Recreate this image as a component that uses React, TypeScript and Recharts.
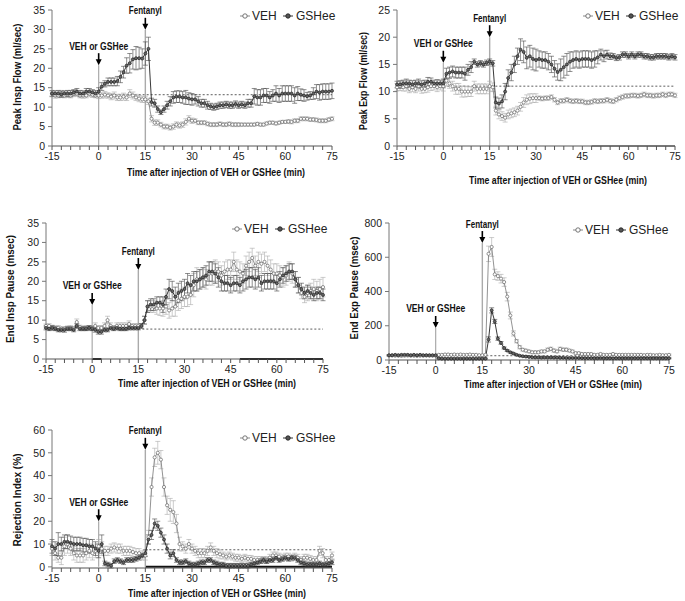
import React from 'react';
import { LineChart, Line, XAxis, YAxis, ErrorBar, ReferenceLine, ReferenceDot, Label } from 'recharts';

const FONT = 'Liberation Sans, Arial, sans-serif';

const TIME = [
  -15, -14, -13, -12, -11, -10, -9, -8, -7, -6, -5, -4, -3, -2, -1,
  0, 1, 2, 3, 4, 5, 6, 7, 8, 9, 10, 11, 12, 13, 14, 15,
  16, 17, 18, 19, 20, 21, 22, 23, 24, 25, 26, 27, 28, 29, 30,
  31, 32, 33, 34, 35, 36, 37, 38, 39, 40, 41, 42, 43, 44, 45,
  46, 47, 48, 49, 50, 51, 52, 53, 54, 55, 56, 57, 58, 59, 60,
  61, 62, 63, 64, 65, 66, 67, 68, 69, 70, 71, 72, 73, 74, 75,
];
const X_TICKS = [-15, -12, -9, -6, -3, 0, 3, 6, 9, 12, 15, 18, 21, 24, 27, 30, 33, 36, 39, 42, 45, 48, 51, 54, 57, 60, 63, 66, 69, 72, 75];

// Peak Insp Flow
const p1Veh = [
  13.5, 13, 13, 13.5, 13, 13.2, 13, 13.5, 13.5, 13, 13, 13, 13.5, 13.2, 13,
  13, 13, 13.2, 13, 12.7, 13, 12.5, 12.5, 12.7, 12.5, 13.5, 13, 12.5, 12.2, 12, 12,
  11.5, 7, 6, 6, 5.5, 5, 5, 4.7, 5, 5.5, 5.3, 5.5, 6.2, 7, 6.5,
  6.5, 6, 6, 6, 5.7, 5.5, 5.5, 5.5, 5.7, 5.5, 5.5, 5.7, 5.5, 5.5, 5.5,
  5.5, 5.5, 5.5, 5.5, 5.5, 5.7, 5.5, 5.5, 5.8, 6, 6, 5.8, 6, 6.2, 6.2,
  6.3, 6.2, 6.5, 6.5, 7, 7, 7, 6.8, 6.8, 6.7, 6.5, 6.5, 6.5, 6.8, 7,
];
const p1VehErr = [
  0.6, 0.7, 0.6, 0.8, 0.6, 0.7, 0.6, 0.8, 0.7, 0.6, 0.7, 0.6, 0.8, 0.7, 0.6,
  0.8, 0.7, 0.8, 0.7, 0.8, 0.9, 0.8, 0.8, 0.9, 0.8, 1, 0.9, 0.8, 0.8, 0.8, 0.8,
  0.8, 0.8, 0.7, 0.7, 0.6, 0.6, 0.6, 0.6, 0.7, 0.7, 0.7, 0.7, 0.8, 0.8, 0.7,
  0.5, 0.5, 0.5, 0.5, 0.5, 0.5, 0.5, 0.5, 0.5, 0.5, 0.5, 0.5, 0.5, 0.5, 0.5,
  0.4, 0.4, 0.4, 0.4, 0.4, 0.4, 0.4, 0.4, 0.4, 0.4, 0.4, 0.4, 0.4, 0.4, 0.4,
  0.5, 0.5, 0.5, 0.5, 0.5, 0.5, 0.5, 0.5, 0.5, 0.5, 0.5, 0.5, 0.5, 0.5, 0.5,
];
const p1Gsh = [
  13.5, 13.5, 13.5, 13.3, 13.5, 13.5, 13.5, 13.8, 14, 13.5, 13.5, 14, 14, 13.8, 13.5,
  14, 15.3, 16, 16.5, 16.5, 16.5, 16.7, 17.8, 19, 20.7, 21.3, 22.3, 22.6, 22.6, 22.5, 23.8,
  25, 11.3, 11, 9.5, 8.7, 9.5, 10.5, 11.5, 12.5, 12.7, 12.7, 12.5, 12.5, 12.2, 12,
  12, 11.5, 11, 11, 10.5, 10.2, 10, 10.2, 10.5, 10.5, 10.7, 10.5, 10.5, 10.8, 10.5,
  10.7, 10.5, 11, 11, 12.8, 12.5, 12.5, 13, 13, 12.5, 13, 13.5, 13, 13.5, 13.5,
  13.5, 13.5, 13, 13.5, 13.2, 13, 12.8, 13, 13.5, 14, 13.8, 14, 14, 14, 14.2,
];
const p1GshErr = [
  0.8, 0.7, 0.8, 0.8, 0.7, 0.8, 0.8, 0.7, 0.8, 0.8, 0.7, 0.8, 0.8, 0.7, 0.8,
  1, 1, 0.8, 1, 1, 1, 1.2, 1.5, 1.5, 2, 2.5, 2.5, 3, 2.8, 2.5, 3,
  3, 1, 1, 0.8, 0.6, 0.8, 1, 1.2, 1.5, 1.5, 1.5, 1.5, 1.8, 1.5, 1.5,
  1.2, 1.2, 1, 1, 1, 0.8, 0.8, 0.8, 0.8, 0.8, 0.8, 0.8, 0.8, 0.8, 0.8,
  0.8, 0.8, 1, 1, 2, 2, 2, 1.8, 1.8, 1.5, 1.5, 2, 1.8, 2, 2,
  2, 2, 2, 1.8, 1.5, 1.5, 1, 1, 1.5, 1.8, 2, 2, 2, 2, 2,
];

// Peak Exp Flow
const p2Veh = [
  10.8, 11, 10.8, 11, 10.5, 10.8, 10.5, 11, 10.5, 10.5, 10.8, 11, 11, 10.8, 11,
  11, 12, 11.5, 11, 10.5, 10.5, 10, 10, 10, 10, 11, 10.5, 10.5, 10.5, 10.5, 11,
  10.8, 6.5, 5.8, 5.5, 5.2, 5.8, 6, 6.2, 6.5, 7.2, 8, 8.5, 8.7, 8.8, 8.8,
  8.8, 8.7, 8.8, 8.8, 9, 8.5, 8, 8.3, 8.3, 8.5, 8.3, 8.2, 8.3, 8.2, 8.2,
  8, 8, 8.1, 8.3, 8.2, 8.3, 8.3, 8.5, 8.3, 8.2, 8.5, 8.8, 9, 9.2, 9.2,
  9.3, 9.3, 9.2, 9.3, 9.5, 9.3, 9.3, 9.2, 9.3, 9.3, 9.5, 9.3, 9.5, 9.5, 9.3,
];
const p2VehErr = [
  0.7, 0.8, 0.7, 0.9, 0.7, 0.8, 0.7, 0.9, 0.8, 0.7, 0.9, 0.8, 0.7, 0.8, 0.7,
  0.9, 1, 0.9, 0.9, 1, 1, 1, 1, 0.9, 0.9, 0.9, 0.9, 0.9, 0.9, 0.9, 0.9,
  0.8, 0.8, 0.8, 0.8, 0.8, 0.8, 0.8, 0.8, 0.8, 0.8, 0.9, 0.9, 0.9, 0.8, 0.8,
  0.4, 0.4, 0.4, 0.4, 0.4, 0.4, 0.4, 0.4, 0.4, 0.4, 0.4, 0.4, 0.4, 0.4, 0.4,
  0.4, 0.4, 0.4, 0.4, 0.4, 0.4, 0.4, 0.4, 0.4, 0.4, 0.4, 0.4, 0.4, 0.4, 0.4,
  0.4, 0.4, 0.4, 0.4, 0.4, 0.4, 0.4, 0.4, 0.4, 0.4, 0.4, 0.4, 0.4, 0.4, 0.4,
];
const p2Gsh = [
  11.3, 11.3, 11.5, 11.5, 11.5, 11.3, 11.5, 11.5, 11.3, 11.5, 11.8, 11.8, 11.5, 11.5, 11.5,
  11.5, 13.3, 13.5, 13.7, 13.5, 13.5, 13.5, 13.3, 14, 14.5, 15.5, 15, 15.2, 15, 15.3, 15.5,
  15.2, 8, 7.8, 8.2, 10, 12.5, 13.5, 15, 16.5, 17.7, 17.3, 16.2, 16.5, 16, 15.8,
  16, 15.8, 15.8, 15.5, 15, 14.2, 13.6, 14, 14.5, 15, 15.5, 15.8, 16, 15.8, 16,
  16, 16, 15.8, 16, 16.3, 16.8, 16.5, 16.8, 16.5, 16.5, 16.2, 16.3, 16.8, 16.8, 16.5,
  16.8, 16.5, 16.8, 16.8, 16.5, 16.5, 16.3, 16.3, 16.5, 16.5, 16.5, 16.5, 16.3, 16.5, 16.3,
];
const p2GshErr = [
  0.6, 0.7, 0.6, 0.8, 0.6, 0.7, 0.6, 0.8, 0.7, 0.6, 0.8, 0.7, 0.6, 0.7, 0.6,
  0.8, 1, 1, 1, 1, 1, 1, 1.2, 1, 1, 0.5, 0.5, 0.5, 0.5, 0.5, 0.5,
  0.5, 1, 1, 1.2, 1.5, 1.5, 1.5, 1.5, 1.5, 2, 2, 2, 2, 2, 2,
  1.5, 1.5, 1.5, 1.5, 1.5, 1.5, 1.5, 2, 2, 2, 1.8, 1.5, 1.5, 1.5, 1.5,
  1.5, 1.5, 1.5, 1.5, 1.2, 1, 1, 0.8, 0.6, 0.5, 0.5, 0.5, 0.5, 0.5, 0.5,
  0.5, 0.5, 0.5, 0.5, 0.5, 0.5, 0.5, 0.5, 0.5, 0.5, 0.5, 0.5, 0.5, 0.5, 0.5,
];

// End Insp Pause
const p3Veh = [
  8.5, 8.5, 8.2, 8, 8, 7.8, 7.8, 8, 8, 7.8, 9.5, 8.2, 8, 8, 8,
  8, 8.5, 8, 8, 8.5, 10, 8.5, 8, 8.5, 8.5, 8.5, 8.5, 9, 8.5, 8.5, 8.5,
  8.5, 10, 13.5, 13.5, 13.5, 13, 13, 13, 13.5, 12.5, 13, 13.5, 15, 15.5, 16,
  16, 16.5, 19, 20.5, 20.5, 21, 20.5, 22, 22, 22.5, 22.5, 21.5, 22.5, 23, 23,
  25, 23, 22.5, 22, 24, 25, 26, 24, 25, 24.5, 25, 24, 23, 22, 22,
  21.5, 21, 21.5, 22.5, 22, 20.5, 19, 17, 16, 17, 17.5, 18, 17.5, 18, 18.5,
];
const p3VehErr = [
  0.5, 0.6, 0.5, 0.5, 0.6, 0.5, 0.5, 0.5, 0.6, 0.5, 0.8, 0.5, 0.5, 0.6, 0.5,
  0.6, 0.8, 0.6, 0.6, 0.8, 1, 0.8, 0.6, 0.8, 0.8, 0.8, 0.8, 0.8, 0.6, 0.6, 0.6,
  0.6, 1, 1.5, 1.5, 1.5, 1.5, 1.8, 2, 2, 2, 2, 2.5, 2.5, 2.5, 2.5,
  2.5, 2.5, 3, 3, 2.5, 2.5, 2.5, 3, 3, 3, 2.5, 2.5, 2.5, 2.5, 2.5,
  2.5, 2.5, 2.5, 2.5, 2.5, 2.5, 2.5, 2.5, 2.5, 2.5, 2.5, 2.5, 2.5, 2.5, 2.5,
  2.5, 2.5, 2.5, 2.5, 2.5, 2, 2, 1.5, 1.5, 2, 2, 2.5, 2.5, 2.5, 2.5,
];
const p3Gsh = [
  8, 7.8, 8, 7.8, 7.5, 7.5, 7.5, 7.8, 7.8, 7.5, 8.5, 7.8, 7.8, 7.8, 8,
  7.8, 7.5, 7, 7, 7.5, 7.5, 8, 7.8, 8, 7.8, 7.8, 7.8, 8, 8, 8, 8,
  8.5, 10, 13.5, 14, 14, 14.5, 14.5, 14, 16, 18, 17.5, 16, 17, 17.5, 18,
  19.5, 19, 20, 20, 20.5, 21, 21.5, 22.5, 22.5, 22, 21, 20, 19.5, 19.5, 19,
  19.5, 19.5, 19, 20, 20.5, 21, 21, 20.5, 21, 19.5, 20, 20, 20, 20, 19.5,
  20.5, 21.5, 22, 22.5, 22.5, 20.5, 19, 18, 17, 17.5, 17, 16.5, 17, 17, 16.5,
];
const p3GshErr = [
  0.5, 0.5, 0.6, 0.5, 0.5, 0.5, 0.6, 0.5, 0.5, 0.5, 0.6, 0.5, 0.5, 0.5, 0.6,
  0.5, 0.6, 0.6, 0.6, 0.5, 0.5, 0.5, 0.5, 0.5, 0.5, 0.5, 0.5, 0.5, 0.5, 0.5, 0.5,
  0.6, 1, 1.5, 1.5, 1.5, 1.5, 1.5, 2, 2, 2.5, 2.5, 2.5, 2.5, 2.5, 2.5,
  2.5, 2.5, 2.5, 2.5, 2.5, 2.5, 2.5, 2.5, 2.5, 2.5, 2.5, 2.5, 2, 2, 2,
  2, 2, 2, 2.5, 2.5, 2.5, 2.5, 2.5, 2.5, 2, 2, 2, 2, 2, 2,
  2, 2, 2, 2, 2, 2, 2, 1.5, 1.5, 1.5, 1.5, 1.5, 1.5, 1.5, 1.5,
];

// End Exp Pause
const p4Veh = [
  25, 26, 25, 25, 24, 25, 26, 25, 25, 24, 25, 25, 26, 25, 25,
  25, 30, 30, 32, 32, 30, 32, 30, 32, 30, 30, 32, 30, 30, 28, 28,
  30, 620, 660, 500, 490, 475, 455, 370, 260, 155, 110, 75, 60, 55, 50,
  45, 45, 45, 50, 50, 60, 65, 55, 50, 65, 60, 60, 55, 50, 40,
  40, 35, 35, 35, 35, 30, 30, 35, 30, 30, 30, 35, 30, 30, 30,
  30, 30, 30, 30, 30, 30, 28, 30, 30, 28, 28, 30, 28, 28, 30,
];
const p4VehErr = [
  4, 4, 4, 4, 4, 4, 4, 4, 4, 4, 4, 4, 4, 4, 4,
  4, 4, 4, 4, 4, 4, 4, 4, 4, 4, 4, 4, 4, 4, 4, 4,
  4, 45, 55, 30, 25, 25, 25, 25, 20, 15, 10, 10, 8, 8, 8,
  8, 8, 8, 8, 8, 10, 10, 10, 8, 10, 10, 10, 8, 8, 6,
  6, 6, 5, 5, 5, 5, 5, 5, 5, 5, 5, 5, 5, 5, 5,
  5, 5, 5, 5, 5, 5, 5, 5, 5, 5, 5, 5, 5, 5, 5,
];
const p4Gsh = [
  28, 28, 30, 28, 30, 30, 30, 28, 30, 28, 30, 28, 28, 28, 28,
  28, 10, 8, 8, 8, 8, 8, 8, 8, 8, 8, 8, 8, 8, 8, 8,
  8, 120, 290, 225, 125, 100, 70, 55, 45, 38, 30, 25, 22, 20, 18,
  16, 15, 15, 14, 15, 14, 15, 14, 14, 13, 13, 12, 12, 12, 12,
  12, 11, 11, 11, 11, 10, 10, 11, 10, 10, 10, 10, 10, 10, 10,
  10, 10, 10, 10, 10, 10, 10, 10, 10, 10, 10, 10, 10, 10, 10,
];
const p4GshErr = [
  3, 3, 3, 3, 3, 3, 3, 3, 3, 3, 3, 3, 3, 3, 3,
  3, 3, 3, 3, 3, 3, 3, 3, 3, 3, 3, 3, 3, 3, 3, 3,
  3, 15, 15, 12, 10, 8, 6, 5, 5, 4, 4, 3, 3, 3, 3,
  3, 3, 3, 3, 3, 3, 3, 3, 3, 3, 3, 3, 3, 3, 3,
  3, 3, 3, 3, 3, 3, 3, 3, 3, 3, 3, 3, 3, 3, 3,
  3, 3, 3, 3, 3, 3, 3, 3, 3, 3, 3, 3, 3, 3, 3,
];

// Rejection Index
const p5Veh = [
  8, 6, 4, 4, 9, 10, 8, 6, 5, 5, 5, 6, 7, 6, 7,
  9, 8, 7, 7, 8, 8.5, 8, 8, 7, 7, 7, 6.5, 6, 6, 5, 5,
  13, 35, 48, 50, 47, 35, 27, 25, 24, 19, 10, 9, 8, 10, 8,
  7, 6, 6, 6, 7, 8.5, 7, 6, 5.5, 5, 4.5, 5, 4.5, 4, 4,
  3.5, 4, 3.5, 3.5, 3, 3, 3, 3, 3, 4, 5, 5, 4.5, 4, 4.5,
  4.5, 4, 4.5, 4, 3, 4, 4, 3.5, 3, 3, 7, 6, 3, 3, 5,
];
const p5VehErr = [
  3, 3, 2, 3, 4, 4, 3, 3, 3, 3, 3, 3, 3, 3, 3,
  3, 3, 2, 2, 2, 2, 2, 2, 2, 2, 2, 2, 2, 2, 2, 2,
  3, 4, 4, 5, 4, 4, 4, 5, 5, 4, 3, 2, 2, 2, 2,
  2, 2, 2, 2, 2, 2, 2, 2, 2, 1.5, 1.5, 1.5, 1.5, 1.5, 1.5,
  1.5, 1.5, 1.5, 1.5, 1.5, 1.5, 1.5, 1.5, 1.5, 1.5, 1.5, 1.5, 1.5, 1.5, 1.5,
  1.5, 1.5, 1.5, 1.5, 1.5, 1.5, 1.5, 1.5, 1.5, 1.5, 2, 2, 1.5, 1.5, 1.5,
];
const p5Gsh = [
  9, 8, 10, 10, 11, 11, 10.5, 10, 10, 10, 9.5, 9.5, 9, 9, 8,
  7, 10, 1.5, 1, 0.5, 2.5, 3, 2.5, 2, 3, 3, 3, 3.5, 4, 5, 6,
  12, 14, 19, 18, 15, 12, 8, 5, 6, 3, 2, 2, 2.5, 1.5, 1,
  1, 1.5, 2, 2, 3, 3, 2, 1.5, 1, 1, 0.5, 0.5, 0.5, 0.5, 0.5,
  0.5, 0.5, 0.5, 1, 1.5, 2, 2.5, 3, 2.5, 3, 3, 4, 3, 3.5, 4,
  3.5, 4, 4, 3, 2, 1.5, 1, 1, 1, 1, 1.5, 1, 1, 1.5, 2,
];
const p5GshErr = [
  3, 3, 5, 3, 3, 3, 3, 3, 3, 3, 3, 3, 3, 3, 3,
  3, 4, 1, 1, 1, 1, 1, 1, 1, 1, 1, 1, 1, 1, 1, 1.5,
  2, 2, 2, 2, 2, 2, 2, 1.5, 1.5, 1, 1, 1, 1, 1, 1,
  1, 1, 1, 1, 1, 1, 1, 1, 1, 1, 1, 1, 1, 1, 1,
  1, 1, 1, 1, 1, 1, 1, 1, 1, 1, 1, 1, 1, 1, 1,
  1, 1, 1, 1, 1, 1, 1, 1, 1, 1, 1, 1, 1, 1, 1,
];

const PANELS = [
  {
    left: 0, top: 0, width: 340, height: 195, plot: [52, 10, 332, 146],
    yMax: 35, yTicks: [0, 5, 10, 15, 20, 25, 30, 35],
    yTitle: 'Peak Insp Flow (ml/sec)', yTitlePos: [17, 77, 107], xTitlePos: [216, 172],
    legend: [240, 16], baseline: 13.2, baseFrom: 0, vehTip: 20.8, fenTip: 29.9,
    veh: p1Veh, vehErr: p1VehErr, gsh: p1Gsh, gshErr: p1GshErr, bars: [],
  },
  {
    left: 340, top: 0, width: 345, height: 195, plot: [57, 10, 335, 146],
    yMax: 25, yTicks: [0, 5, 10, 15, 20, 25],
    yTitle: 'Peak Exp Flow (ml/sec)', yTitlePos: [23, 81, 98], xTitlePos: [218, 180],
    legend: [243, 16], baseline: 11, baseFrom: 0, vehTip: 15.3, fenTip: 20,
    veh: p2Veh, vehErr: p2VehErr, gsh: p2Gsh, gshErr: p2GshErr, bars: [[48, 75, '#999']],
  },
  {
    left: 0, top: 200, width: 340, height: 195, plot: [46, 23, 323, 159],
    yMax: 35, yTicks: [0, 5, 10, 15, 20, 25, 30, 35],
    yTitle: 'End Insp Pause (msec)', yTitlePos: [10, 89, 108], xTitlePos: [207, 183],
    legend: [232, 29], baseline: 7.7, baseFrom: 15, vehTip: 13.9, fenTip: 22.9,
    veh: p3Veh, vehErr: p3VehErr, gsh: p3Gsh, gshErr: p3GshErr, bars: [[0, 3, '#111'], [48, 75, '#111']],
  },
  {
    left: 340, top: 200, width: 345, height: 195, plot: [49, 23, 329, 160],
    yMax: 800, yTicks: [0, 200, 400, 600, 800],
    yTitle: 'End Exp Pause (msec)', yTitlePos: [14, 88, 103], xTitlePos: [213, 184],
    legend: [233, 30], baseline: 25, baseFrom: 15, vehTip: 187, fenTip: 683,
    veh: p4Veh, vehErr: p4VehErr, gsh: p4Gsh, gshErr: p4GshErr, bars: [],
  },
  {
    left: 0, top: 400, width: 340, height: 201, plot: [52, 30, 332, 168],
    yMax: 60, yTicks: [0, 10, 20, 30, 40, 50, 60],
    yTitle: 'Rejection Index (%)', yTitlePos: [17, 100, 93], xTitlePos: [217, 193],
    legend: [240, 38], baseline: 7.5, baseFrom: 15, vehTip: 20, fenTip: 51.3,
    veh: p5Veh, vehErr: p5VehErr, gsh: p5Gsh, gshErr: p5GshErr, bars: [[15, 75, '#111']],
  },
];

const Arrow = ({ cx, cy, text, len }: any) => (
  <g>
    <line x1={cx} x2={cx} y1={cy - 12} y2={cy - 5} stroke="#000" strokeWidth={1.6} />
    <path d={`M${cx - 3},${cy - 6} L${cx + 3},${cy - 6} L${cx},${cy} Z`} fill="#000" />
    <text x={cx} y={cy - 19} textAnchor="middle" dominantBaseline="central" fontSize={10}
      fontWeight="bold" fontFamily={FONT} textLength={len} lengthAdjust="spacingAndGlyphs" fill="#111">
      {text}
    </text>
  </g>
);

const PanelLegend = ({ x, y }: { x: number; y: number }) => (
  <svg style={{ position: 'absolute', left: x, top: y - 9 }} width={100} height={18}>
    <line x1={0} x2={10} y1={9} y2={9} stroke="#888" strokeWidth={1} />
    <circle cx={5} cy={9} r={2.2} fill="#fff" stroke="#666" strokeWidth={0.9} />
    <text x={12} y={13.3} fontSize={12} fontFamily={FONT} fill="#222">VEH</text>
    <line x1={43} x2={53} y1={9} y2={9} stroke="#333" strokeWidth={1} />
    <circle cx={48} cy={9} r={2.2} fill="#555" stroke="#222" strokeWidth={0.9} />
    <text x={56} y={13.3} fontSize={12} fontFamily={FONT} fill="#222">GSHee</text>
  </svg>
);

const Panel = ({ p }: { p: any }) => {
  const rows = TIME.map((t, i) => ({ t, veh: p.veh[i], vehErr: p.vehErr[i], gsh: p.gsh[i], gshErr: p.gshErr[i] }));
  const yAxisW = 40;
  const xAxisH = 30;
  const [x0, y0, x1, y1] = p.plot;
  const margin = { top: y0, right: p.width - x1, bottom: p.height - y1 - xAxisH, left: x0 - yAxisW };
  const [ytx, yty, ytl] = p.yTitlePos;
  const [xtx, xty] = p.xTitlePos;
  return (
    <div style={{ position: 'absolute', left: p.left, top: p.top, width: p.width, height: p.height }}>
      <LineChart width={p.width} height={p.height} data={rows} margin={margin}>
        <XAxis
          type="number"
          dataKey="t"
          domain={[-15, 75]}
          ticks={X_TICKS}
          interval={0}
          tickFormatter={(v: number) => (v % 15 === 0 ? String(v) : '')}
          height={xAxisH}
          tickSize={4}
          tickMargin={3}
          stroke="#555"
          tick={{ fontSize: 10.5, fill: '#222', fontFamily: FONT }}
        >
          <Label
            content={() => (
              <text x={xtx} y={xty} textAnchor="middle" dominantBaseline="central" fontSize={10}
                fontWeight="bold" fontFamily={FONT} textLength={178} lengthAdjust="spacingAndGlyphs" fill="#111">
                Time after injection of VEH or GSHee (min)
              </text>
            )}
          />
        </XAxis>
        <YAxis
          domain={[0, p.yMax]}
          ticks={p.yTicks}
          interval={0}
          width={yAxisW}
          tickSize={4}
          tickMargin={3}
          stroke="#777"
          tick={{ fontSize: 10.5, fill: '#222', fontFamily: FONT }}
        >
          <Label
            content={() => (
              <text x={ytx} y={yty} transform={`rotate(-90 ${ytx} ${yty})`} textAnchor="middle"
                dominantBaseline="central" fontSize={10.5} fontWeight="bold" fontFamily={FONT}
                textLength={ytl} lengthAdjust="spacingAndGlyphs" fill="#111">
                {p.yTitle}
              </text>
            )}
          />
        </YAxis>
        {p.bars.map((b: any, i: number) => (
          <ReferenceLine key={`bar${i}`} segment={[{ x: b[0], y: 0 }, { x: b[1], y: 0 }]} stroke={b[2]} strokeWidth={2} />
        ))}
        <ReferenceLine segment={[{ x: p.baseFrom, y: p.baseline }, { x: 75, y: p.baseline }]}
          stroke="#333" strokeWidth={0.8} strokeDasharray="2 2" />
        <ReferenceLine segment={[{ x: 0, y: 0 }, { x: 0, y: p.vehTip }]} stroke="#aaa" strokeWidth={1.2} />
        <ReferenceLine segment={[{ x: 15, y: 0 }, { x: 15, y: p.fenTip }]} stroke="#aaa" strokeWidth={1.4} />
        <Line
          type="linear"
          dataKey="veh"
          stroke="#777"
          strokeWidth={0.8}
          dot={{ r: 1.6, fill: '#fff', stroke: '#666', strokeWidth: 0.7 }}
          isAnimationActive={false}
        >
          <ErrorBar dataKey="vehErr" width={2.5} stroke="#aaa" strokeWidth={0.6} direction="y" isAnimationActive={false} />
        </Line>
        <Line
          type="linear"
          dataKey="gsh"
          stroke="#222"
          strokeWidth={0.9}
          dot={{ r: 1.5, fill: '#666', stroke: '#222', strokeWidth: 0.7 }}
          isAnimationActive={false}
        >
          <ErrorBar dataKey="gshErr" width={2.5} stroke="#444" strokeWidth={0.6} direction="y" isAnimationActive={false} />
        </Line>
        <ReferenceDot x={0} y={p.vehTip} r={0}
          shape={(s: any) => <Arrow cx={s.cx} cy={s.cy} text="VEH or GSHee" len={59} />} />
        <ReferenceDot x={15} y={p.fenTip} r={0}
          shape={(s: any) => <Arrow cx={s.cx} cy={s.cy} text="Fentanyl" len={33} />} />
      </LineChart>
      <PanelLegend x={p.legend[0]} y={p.legend[1]} />
    </div>
  );
};

export default function App() {
  return (
    <div style={{ position: 'absolute', left: 0, top: 0, width: 685, height: 601, background: '#fff' }}>
      {PANELS.map((p, i) => (
        <Panel key={i} p={p} />
      ))}
    </div>
  );
}
